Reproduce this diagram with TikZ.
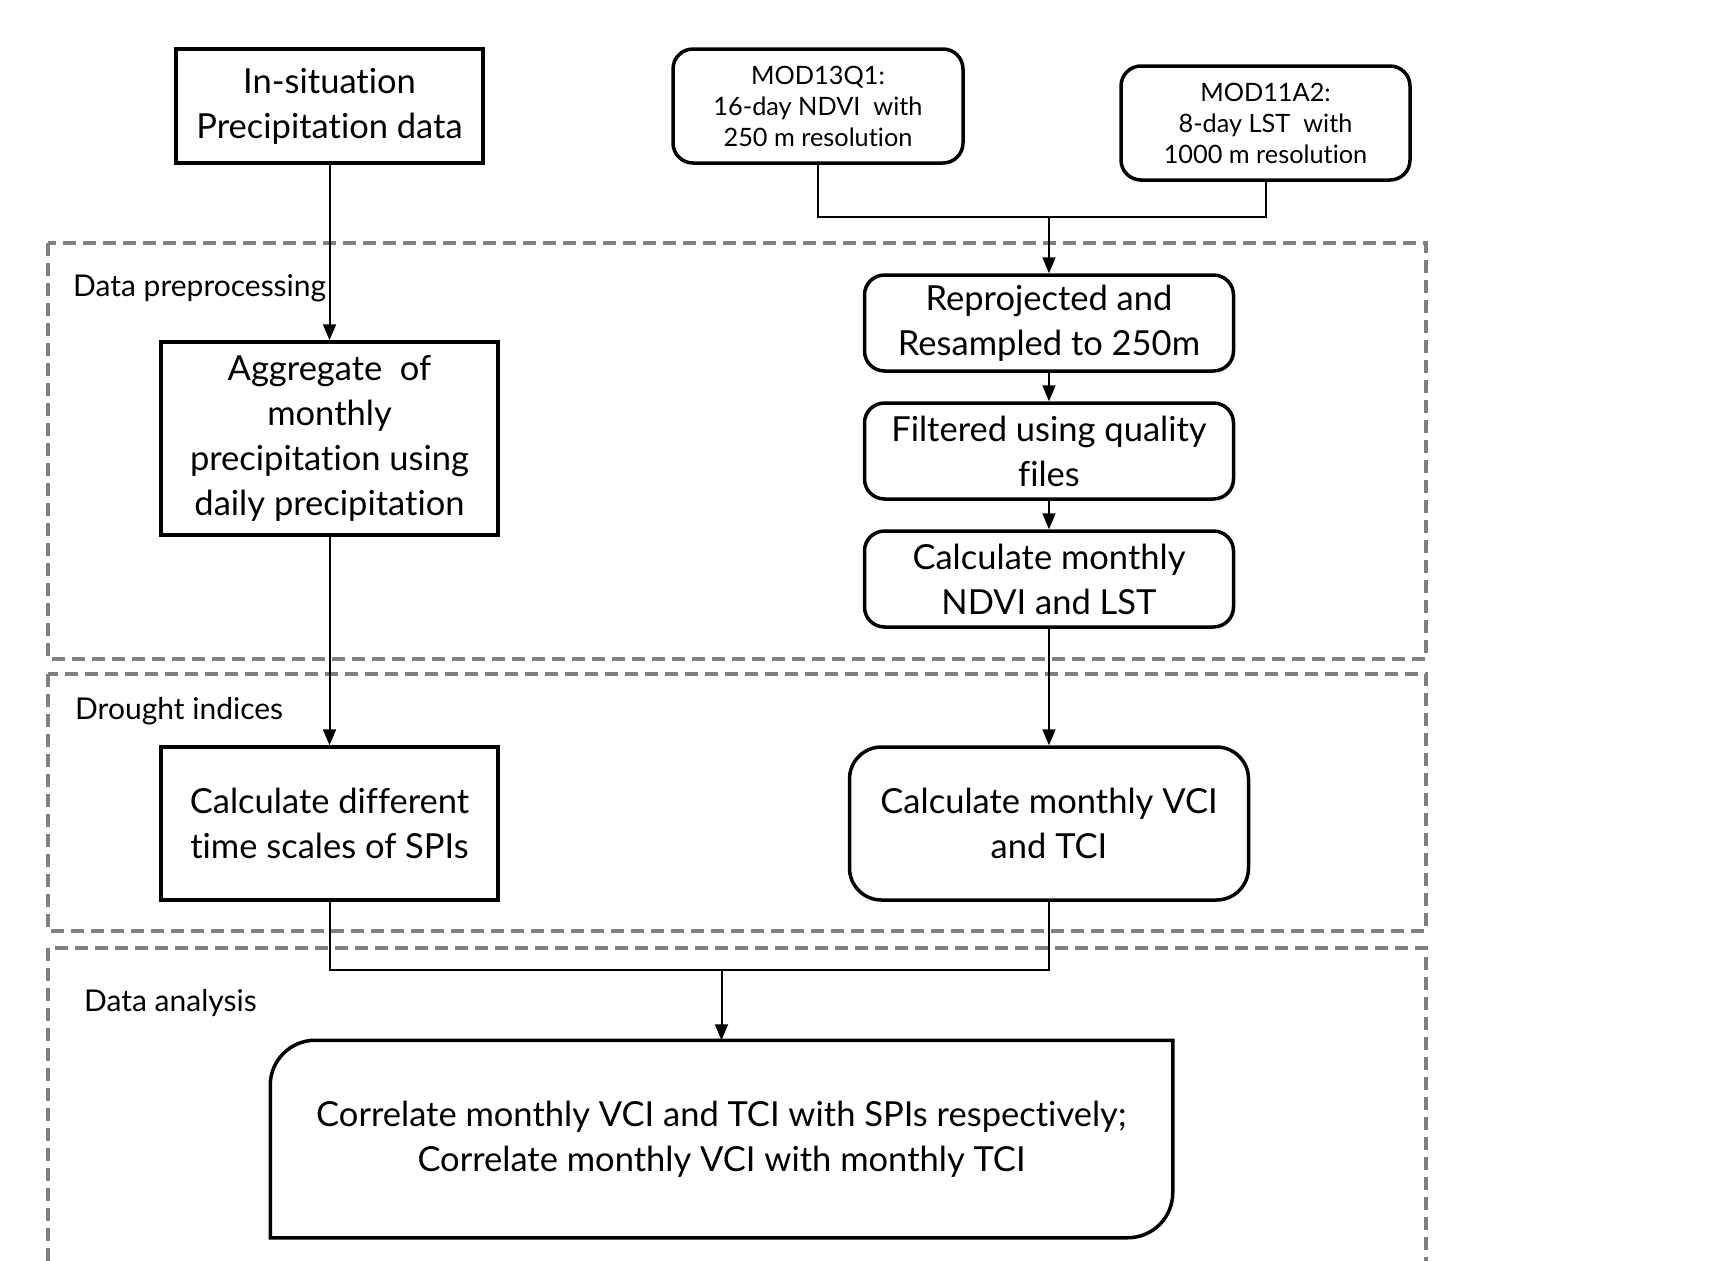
\documentclass[tikz,border=0pt]{standalone}
\usepackage{fontspec}
\setmainfont{Lato}[Ligatures=NoCommon]
\usetikzlibrary{arrows.meta}

\begin{document}
\begin{tikzpicture}[%
        x = 1pt, y = 1pt,
        sqbox/.style = {draw, line width=3.5pt, align=center, inner sep=0pt,
                        font=\fontsize{34.5}{45}\selectfont},
        rbox/.style = {sqbox, rounded corners=20pt},
        smalltext/.style = {font=\fontsize{25.3}{31}\selectfont},
        region/.style = {draw=black!50, line width=4.5pt, dash pattern=on 13pt off 7pt},
        regionlabel/.style = {anchor=west, inner sep=0pt, font=\fontsize{30}{34}\selectfont},
        conn/.style = {line width=2pt},
        arr/.style = {conn, -{Triangle[length=16pt,width=13pt]}}
    ]
      \useasboundingbox (0,0) rectangle (1717,-1261);
      \clip (0,0) rectangle (1717,-1261);
      % dashed regions
      \draw[region] (48,-243) rectangle (1426,-659);
      \draw[region] (48,-674) rectangle (1426,-931);
      \draw[region] (48,-948) rectangle (1426,-1300);
      \node[regionlabel] (lpre) at (73,-288) {Data preprocessing};
      \node[regionlabel] (ldro) at (75,-711) {Drought indices};
      \node[regionlabel] (lana) at (84,-1003) {Data analysis};
      % input data
      \node[sqbox, minimum width=307pt, minimum height=114pt] (insitu) at (329.5,-106)
        {In-situation\\Precipitation data};
      \node[rbox, smalltext, minimum width=290pt, minimum height=114pt] (mod13) at (818,-106)
        {MOD13Q1:\\16-day NDVI\ \ with\\250 m resolution};
      \node[rbox, smalltext, minimum width=289pt, minimum height=114pt] (mod11) at (1265.5,-123)
        {MOD11A2:\\8-day LST\ \ with\\1000 m resolution};
      % preprocessing
      \node[sqbox, minimum width=337pt, minimum height=193pt] (aggregate) at (329.5,-438.5)
        {Aggregate\ \ of\\monthly\\precipitation using\\daily precipitation};
      \node[rbox, minimum width=369pt, minimum height=96pt] (reproj) at (1049,-323)
        {Reprojected and\\Resampled to 250m};
      \node[rbox, minimum width=369pt, minimum height=96pt] (filtered) at (1049,-451)
        {Filtered using quality\\files};
      \node[rbox, minimum width=369pt, minimum height=96pt] (ndvilst) at (1049,-579)
        {Calculate monthly\\NDVI and LST};
      % drought indices
      \node[sqbox, minimum width=337pt, minimum height=153pt] (spis) at (329.5,-823.5)
        {Calculate different\\time scales of SPIs};
      \node[rbox, rounded corners=32pt, minimum width=399pt, minimum height=153pt] (vcitci) at (1049,-823.5)
        {Calculate monthly VCI\\and TCI};
      % analysis
      \node[sqbox, draw=none, minimum width=899pt, minimum height=194pt] (correl) at (721.5,-1139)
        {Correlate monthly VCI and TCI with SPIs respectively;\\Correlate monthly VCI with monthly TCI};
      \draw[line width=3.5pt] (correl.south west) -- ([yshift=-45pt]correl.north west)
        arc[start angle=180, end angle=90, radius=45pt] -- (correl.north east)
        -- ([yshift=45pt]correl.south east)
        arc[start angle=0, end angle=-90, radius=45pt] -- cycle;
      % connectors
      \coordinate (join1) at (1049,-217);
      \coordinate (join2) at (721.5,-970);
      \draw[conn] (mod13.south) |- (join1) -| (mod11.south);
      \draw[arr] (join1) -- (reproj.north);
      \draw[arr] (insitu.south) -- (aggregate.north);
      \draw[arr] (aggregate.south) -- (spis.north);
      \draw[arr] (reproj.south) -- (filtered.north);
      \draw[arr] (filtered.south) -- (ndvilst.north);
      \draw[arr] (ndvilst.south) -- (vcitci.north);
      \draw[conn] (spis.south) |- (join2) -| (vcitci.south);
      \draw[arr] (join2) -- (correl.north);
    \end{tikzpicture}
\end{document}
